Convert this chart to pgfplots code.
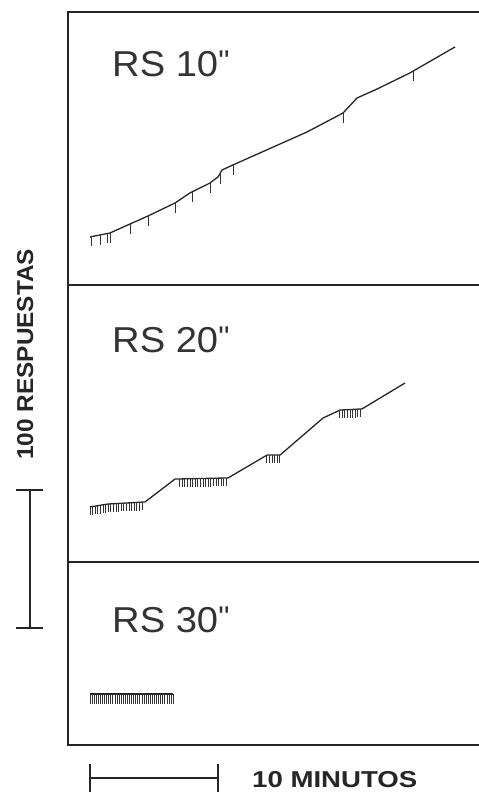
\documentclass[border=0pt]{standalone}
\usepackage{fontspec}
\setmainfont{Liberation Sans}
\newfontfamily\qfont{Liberation Sans}
\usepackage{graphicx}
\usepackage{pgfplots}
\pgfplotsset{compat=1.18}
\begin{document}
\begin{tikzpicture}[x=1pt,y=1pt]
\useasboundingbox (0,0) rectangle (479,795);
\pgfplotsset{panel/.style={hide axis, scale only axis, width=411pt,
  xmin=-1.692, xmax=29.92, ymin=0, clip=false, anchor=south west},
  curve/.style={line width=1.3pt, black!85, mark=none},
  pip/.style={line width=0.9pt, black!80, mark=none}}

% ---------- RS 10" ----------
\begin{axis}[panel, at={(68pt,510pt)}, height=273pt, ymax=197.8]
\addplot[curve] coordinates {(0,34.8) (1.54,37.7) (3.08,44.2) (4.46,50.0)
  (6.54,59.4) (7.69,66.7) (9.23,73.9) (9.85,78.3) (10.15,83.3) (11.0,87.0)
  (16.7,110.9) (19.46,124.6) (20.54,135.5) (22.08,142.0) (24.6,153.6) (28.08,172.5)};
\addplot[pip, quiver={u=0,v=-7}] coordinates {(0.1,35.2) (0.77,36.3) (1.31,37.3)
  (1.54,37.7) (3.08,44.2) (4.46,50.0) (6.54,59.4) (7.85,67.3) (9.23,73.9)
  (10.0,80.5) (11.0,87.0) (19.46,124.6) (24.85,154.7)};
\end{axis}

% ---------- RS 20" ----------
\begin{axis}[panel, at={(68pt,233pt)}, height=277pt, ymax=200.7]
\addplot[curve] coordinates {(0,39.9) (1.38,42.0) (4.23,43.5) (6.54,60.1)
  (10.62,60.9) (13.62,77.5) (14.62,77.5) (17.92,104.3) (19.23,110.1)
  (20.92,110.9) (24.23,129.7)};
\addplot[pip, quiver={u=0,v=-6}] coordinates {(0,39.9) (0.2,40.2) (0.4,40.5)
  (0.6,40.8) (0.8,41.1) (1.0,41.4) (1.2,41.7) (1.4,42.0) (1.6,42.1) (1.8,42.2)
  (2.0,42.4) (2.2,42.5) (2.4,42.6) (2.6,42.7) (2.8,42.8) (3.0,42.9) (3.2,43.0)
  (3.4,43.1) (3.6,43.2) (3.8,43.3) (4.0,43.4)
  (6.9,60.3) (7.1,60.3) (7.3,60.4) (7.5,60.4) (7.7,60.4) (7.9,60.5) (8.1,60.5)
  (8.3,60.6) (8.5,60.6) (8.7,60.6) (8.9,60.7) (9.1,60.7) (9.3,60.7) (9.5,60.8)
  (9.7,60.8) (9.9,60.8) (10.1,60.9) (10.3,60.9) (10.5,60.9)
  (13.6,77.5) (13.8,77.5) (14.0,77.5) (14.2,77.5) (14.4,77.5) (14.6,77.5)
  (19.2,110.1) (19.4,110.2) (19.6,110.3) (19.8,110.4) (20.0,110.5)
  (20.2,110.5) (20.4,110.6) (20.6,110.7) (20.8,110.8)};
\end{axis}

% ---------- RS 30" ----------
\begin{axis}[panel, at={(68pt,50pt)}, height=183pt, ymax=132.6]
\addplot[curve] coordinates {(0,37.0) (6.4,37.0)};
\addplot[pip, quiver={u=0,v=-7}] coordinates {(0,37) (0.16,37) (0.32,37) (0.48,37)
  (0.64,37) (0.8,37) (0.96,37) (1.12,37) (1.28,37) (1.44,37) (1.6,37) (1.76,37)
  (1.92,37) (2.08,37) (2.24,37) (2.4,37) (2.56,37) (2.72,37) (2.88,37) (3.04,37)
  (3.2,37) (3.36,37) (3.52,37) (3.68,37) (3.84,37) (4.0,37) (4.16,37) (4.32,37)
  (4.48,37) (4.64,37) (4.8,37) (4.96,37) (5.12,37) (5.28,37) (5.44,37) (5.6,37)
  (5.76,37) (5.92,37) (6.08,37) (6.24,37) (6.4,37)};
\end{axis}

% frame (open on the right)
\draw[line width=1.6pt, black!85] (479,783) -- (68,783) -- (68,50) -- (479,50);
\draw[line width=1.6pt, black!85] (68,510) -- (479,510);
\draw[line width=1.6pt, black!85] (68,233) -- (479,233);

% panel titles
\foreach \t/\yy in {10/718, 20/442, 30/162}
  \node[anchor=base west, inner sep=0, text=black!80] at (112,\yy)
    {\fontsize{36}{40}\selectfont\scalebox{1.06}[1]{RS \t\raisebox{5pt}{\qfont\fontsize{30}{30}\selectfont"}}};

% scale bars
\draw[line width=1.2pt, black!85] (30,305) -- (30,167);
\draw[line width=1.2pt, black!85] (16,305) -- (43,305);
\draw[line width=1.2pt, black!85] (16,167) -- (43,167);
\draw[line width=1.2pt, black!85] (90,17) -- (218,17);
\draw[line width=1.2pt, black!85] (90,3) -- (90,31);
\draw[line width=1.2pt, black!85] (218,3) -- (218,31);

\node[anchor=base west, inner sep=0, text=black!85] at (252,8)
  {\fontsize{23}{26}\selectfont\bfseries\scalebox{1.2}[1]{10 MINUTOS}};
\node[rotate=90, anchor=base west, inner sep=0, text=black!85] at (33,335)
  {\fontsize{23}{26}\selectfont\bfseries\scalebox{1.06}[1]{100 RESPUESTAS}};
\end{tikzpicture}
\end{document}
